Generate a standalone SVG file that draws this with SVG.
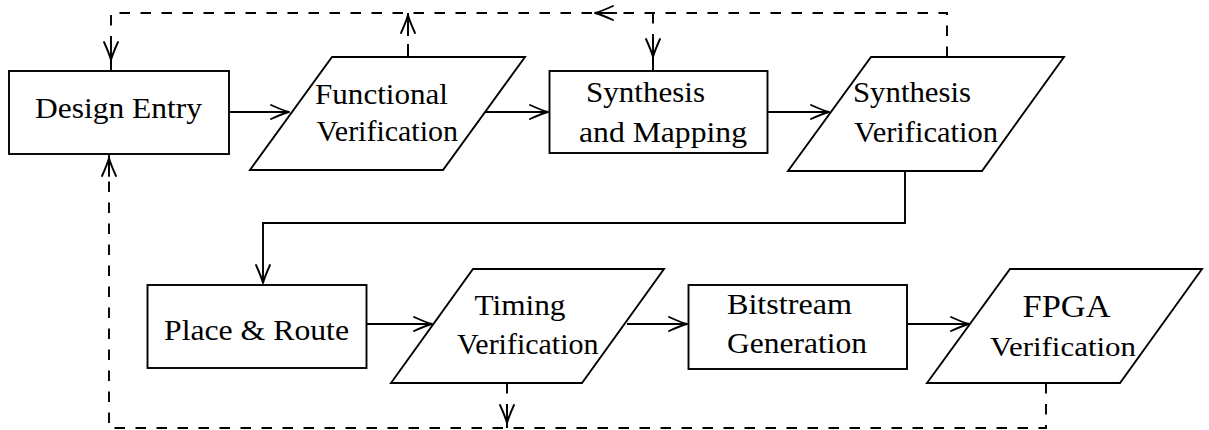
<svg xmlns="http://www.w3.org/2000/svg" width="1209" height="430" viewBox="0 0 1209 430">
  <style>
    .node { fill: #fff; stroke: #000; stroke-width: 1.9; stroke-linejoin: miter; }
    .lbl { font-family: "Liberation Serif", "DejaVu Serif", serif; font-size: 30px; fill: #000; }
    .flow { fill: none; stroke: #000; stroke-width: 1.9; }
    .back { fill: none; stroke: #000; stroke-width: 1.9; stroke-dasharray: 10.5 10.5; }
    .head { fill: none; stroke: #000; stroke-width: 1.9; stroke-linecap: round; stroke-linejoin: round; }
  </style>
  <defs>
    <!-- open curved arrow tip, pointing along +x with the point at the origin -->
    <path id="head" class="head" d="M-18,-7 Q-6,-1.6 0,0 Q-6,1.6 -18,7"/>
    <path id="dhead" class="head" d="M-18,-7 Q-6,-1.6 0,0 Q-6,1.6 -18,7 M-18,0 H0"/>
    <marker id="tip" markerUnits="userSpaceOnUse" viewBox="-20 -10 22 20" refX="0" refY="0" markerWidth="22" markerHeight="20" orient="auto" overflow="visible">
      <use href="#head"/>
    </marker>
  </defs>

  <rect x="0" y="0" width="1209" height="430" fill="#fff"/>

  <!-- upper row -->
  <g id="design-entry">
    <rect class="node" x="9" y="71" width="220" height="83"/>
    <text class="lbl" x="35" y="117.5" textLength="167" lengthAdjust="spacingAndGlyphs">Design Entry</text>
  </g>
  <g id="functional-verification">
    <polygon class="node" points="332,57 525,57 443,170 250,170"/>
    <text class="lbl" x="315" y="103.5" textLength="133" lengthAdjust="spacingAndGlyphs">Functional</text>
    <text class="lbl" x="316.5" y="141" textLength="141.5" lengthAdjust="spacingAndGlyphs">Verification</text>
  </g>
  <g id="synthesis-mapping">
    <rect class="node" x="549.5" y="71" width="218" height="82"/>
    <text class="lbl" x="586" y="102" textLength="119" lengthAdjust="spacingAndGlyphs">Synthesis</text>
    <text class="lbl" x="579" y="141.5" textLength="168" lengthAdjust="spacingAndGlyphs">and Mapping</text>
  </g>
  <g id="synthesis-verification">
    <polygon class="node" points="871,57 1064,57 982,171 788,171"/>
    <text class="lbl" x="853" y="102" textLength="118" lengthAdjust="spacingAndGlyphs">Synthesis</text>
    <text class="lbl" x="854" y="141.5" textLength="144" lengthAdjust="spacingAndGlyphs">Verification</text>
  </g>

  <!-- lower row -->
  <g id="place-route">
    <rect class="node" x="147.5" y="285" width="219" height="83"/>
    <text class="lbl" x="164" y="340" textLength="185" lengthAdjust="spacingAndGlyphs">Place &amp; Route</text>
  </g>
  <g id="timing-verification">
    <polygon class="node" points="473,269 664,269 582,383 391,383"/>
    <text class="lbl" x="474.5" y="315" textLength="91" lengthAdjust="spacingAndGlyphs">Timing</text>
    <text class="lbl" x="457" y="354" textLength="141.5" lengthAdjust="spacingAndGlyphs">Verification</text>
  </g>
  <g id="bitstream-generation">
    <rect class="node" x="688.5" y="285" width="218.5" height="84"/>
    <text class="lbl" x="727" y="314" textLength="125" lengthAdjust="spacingAndGlyphs">Bitstream</text>
    <text class="lbl" x="727" y="353" textLength="140" lengthAdjust="spacingAndGlyphs">Generation</text>
  </g>
  <g id="fpga-verification">
    <polygon class="node" points="1010,269 1202,269 1120,383 927,383"/>
    <text class="lbl" x="1022.5" y="316.5" textLength="88" lengthAdjust="spacingAndGlyphs" style="font-size:31px">FPGA</text>
    <text class="lbl" x="990" y="356" textLength="146" lengthAdjust="spacingAndGlyphs" style="font-size:28px">Verification</text>
  </g>

  <g id="connectors">
    <!-- forward flow -->
    <path class="flow" marker-end="url(#tip)" d="M229,112 H289"/>
    <path class="flow" marker-end="url(#tip)" d="M485,112 H548"/>
    <path class="flow" marker-end="url(#tip)" d="M767.5,112 H829"/>
    <path class="flow" marker-end="url(#tip)" d="M905,171 V223 H263 V283"/>
    <path class="flow" marker-end="url(#tip)" d="M366.5,324 H432"/>
    <path class="flow" marker-end="url(#tip)" d="M627,324 H687"/>
    <path class="flow" marker-end="url(#tip)" d="M907,324 H969"/>

    <!-- feedback loops -->
    <path class="back" d="M947,57 V13 H111 V71"/>
    <path class="back" d="M653,13 V71"/>
    <path class="back" d="M408,57 V13"/>
    <path class="back" d="M1046,383 V428 H109 V154"/>
    <path class="back" d="M507,383 V428"/>

    <!-- solid stubs where the feedback tips sit -->
    <path class="flow" d="M111,58 V71"/>
    <path class="flow" d="M653,55 V71"/>
    <path class="flow" d="M507,421 V428"/>
    <path class="flow" d="M408,44 V57"/>
    <path class="flow" d="M109,154 V160"/>
    <path class="flow" d="M595,13 H617"/>

    <use href="#dhead" transform="translate(111,60) rotate(90)"/>
    <use href="#dhead" transform="translate(595,13) rotate(180)"/>
    <use href="#dhead" transform="translate(653,57) rotate(90)"/>
    <use href="#dhead" transform="translate(408,15) rotate(-90)"/>
    <use href="#dhead" transform="translate(109,158) rotate(-90)"/>
    <use href="#dhead" transform="translate(507,423) rotate(90)"/>
  </g>
</svg>
